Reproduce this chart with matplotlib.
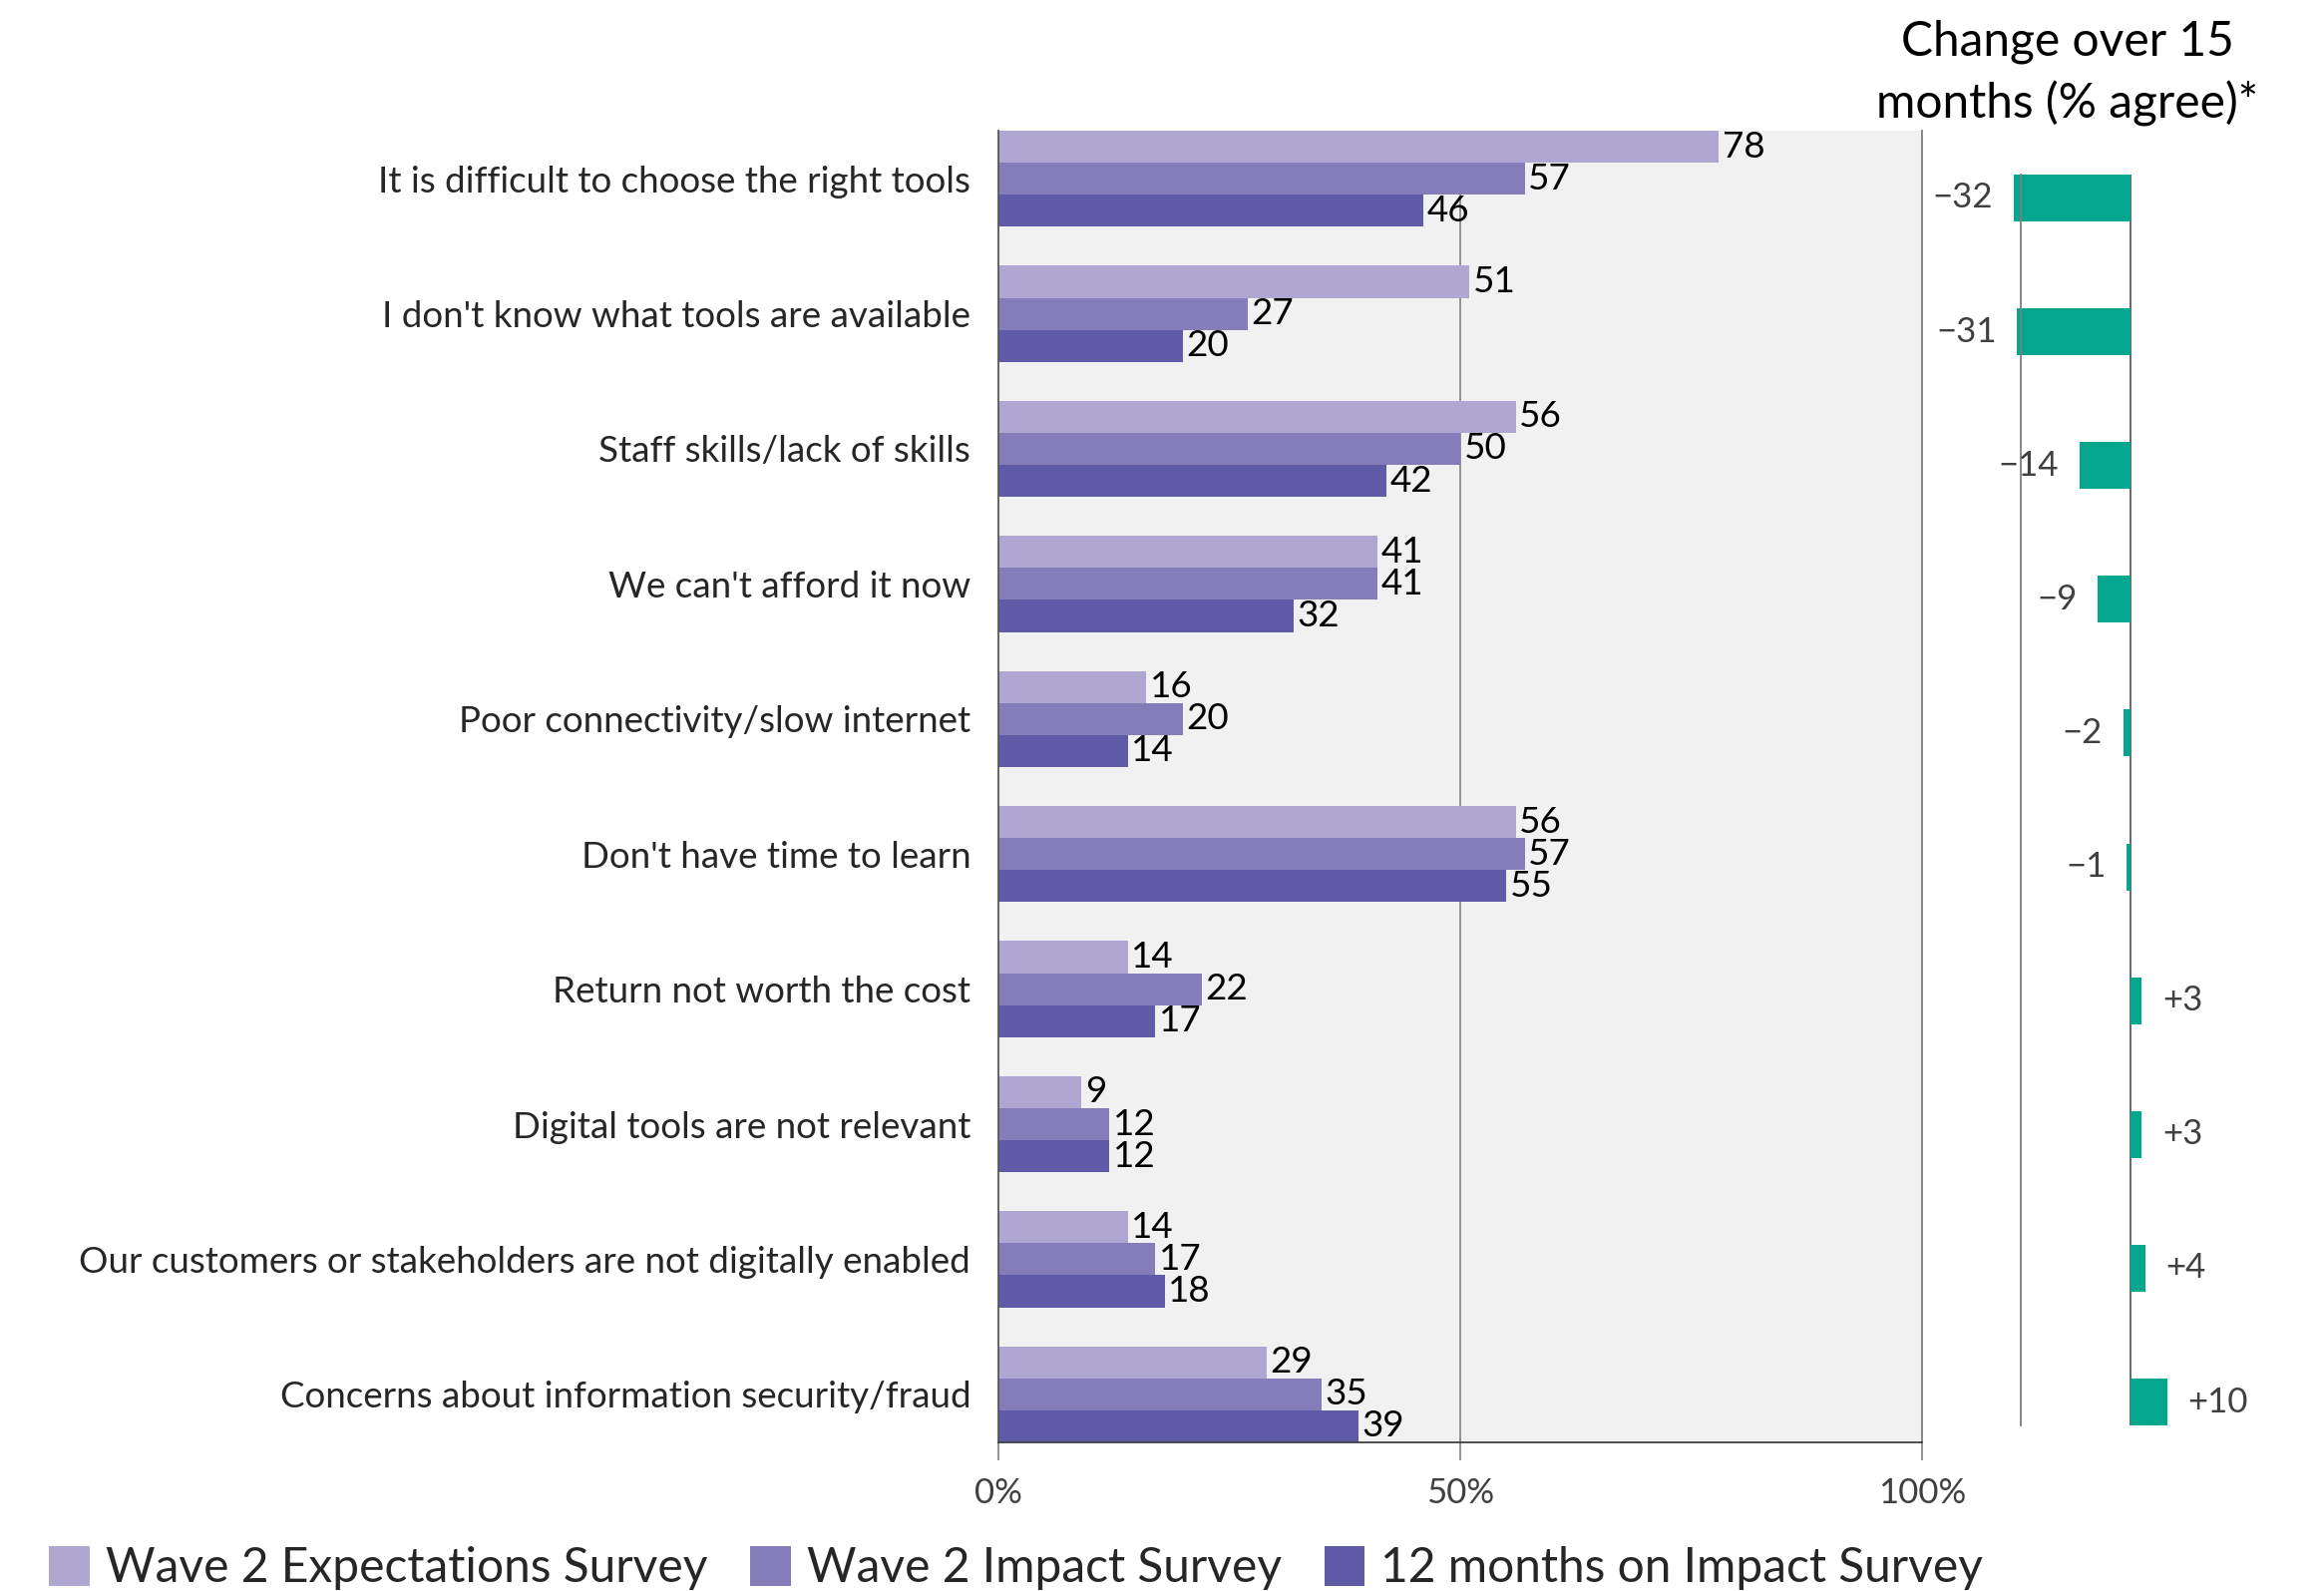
import numpy as np
import matplotlib.pyplot as plt
from matplotlib.patches import Patch

plt.rcParams['font.family'] = ['Lato', 'DejaVu Sans']

categories = ["It is difficult to choose the right tools",
              "I don't know what tools are available",
              "Staff skills/lack of skills",
              "We can't afford it now",
              "Poor connectivity/slow internet",
              "Don't have time to learn",
              "Return not worth the cost",
              "Digital tools are not relevant",
              "Our customers or stakeholders are not digitally enabled",
              "Concerns about information security/fraud"]
wave2_expect = [78, 51, 56, 41, 16, 56, 14, 9, 14, 29]
wave2_impact = [57, 27, 50, 41, 20, 57, 22, 12, 17, 35]
months12 = [46, 20, 42, 32, 14, 55, 17, 12, 18, 39]
change = [-32, -31, -14, -9, -2, -1, 3, 3, 4, 10]
series_names = ["Wave 2 Expectations Survey", "Wave 2 Impact Survey", "12 months on Impact Survey"]
colors = ["#b0a6d2", "#857db9", "#5f5ba7"]
teal = "#04a78e"

W, H = 2330, 1595
fig = plt.figure(figsize=(W / 100, H / 100), dpi=100)

# main grouped bars
ax = fig.add_axes([1001 / W, 1 - 1446 / H, 926 / W, 1315 / H])
ax.set_facecolor("#f1f1f1")
y = np.arange(len(categories))
h = 0.237
for i, (vals, c) in enumerate(zip([wave2_expect, wave2_impact, months12], colors)):
    pos = y + (i - 1) * h
    ax.barh(pos, vals, height=h, color=c, label=series_names[i], zorder=2)
    for p, v in zip(pos, vals):
        ax.annotate(str(v), (v, p), xytext=(2.5, 0), textcoords="offset points",
                    ha="left", va="center", fontsize=26.5, color="black", zorder=4)

ax.set_xlim(0, 100)
ax.set_ylim(9 + 1.5 * h, -1.5 * h)
ax.set_xticks([0, 50, 100])
ax.set_xticklabels(["0%", "50%", "100%"])
ax.tick_params(axis="x", length=13, width=1.2, color="#7f7f7f", pad=12,
               labelsize=25, labelcolor="#404040")
ax.set_yticks(y)
ax.set_yticklabels(categories)
ax.tick_params(axis="y", length=0, pad=20, labelsize=26.5, labelcolor="#262626")
ax.axvline(50, color="#8c8c8c", lw=1.3, zorder=1)
ax.spines["top"].set_visible(False)
ax.spines["left"].set_color("#595959")
ax.spines["right"].set_color("#7f7f7f")
ax.spines["bottom"].set_color("#404040")
for s in ["left", "right", "bottom"]:
    ax.spines[s].set_linewidth(1.3)

# change panel
ax2 = fig.add_axes([2026 / W, 1 - 1429 / H, 220 / W, 1254 / H])
ax2.barh(y, change, height=0.35, color=teal, clip_on=False, zorder=2)
ax2.set_xlim(-30, 30)
ax2.set_ylim(9.175, -0.175)
ax2.axvline(0, color="#595959", lw=1.3, zorder=1)
for s in ["top", "right", "bottom"]:
    ax2.spines[s].set_visible(False)
ax2.spines["left"].set_color("#7f7f7f")
ax2.spines["left"].set_linewidth(1.3)
ax2.set_xticks([])
ax2.set_yticks([])
ax2.patch.set_visible(False)
for p, v in zip(y, change):
    txt = ("+%d" % v) if v > 0 else ("\u2212%d" % abs(v))
    ax2.annotate(txt, (v, p), xytext=(15 if v > 0 else -15, 0), textcoords="offset points",
                 ha="left" if v > 0 else "right", va="center", fontsize=25, color="#404040",
                 annotation_clip=False)

fig.text(2073 / W, 1 - 42 / H, "Change over 15", ha="center", va="center", fontsize=34.5, color="black")
fig.text(2073 / W, 1 - 104 / H, "months (% agree)*", ha="center", va="center", fontsize=34.5, color="black")

handles = [Patch(facecolor=c) for c in colors]
fig.legend(handles, series_names, loc="center left", bbox_to_anchor=(49 / W, 1 - 1572 / H),
           ncol=3, frameon=False, fontsize=34.5, handlelength=0.85, handleheight=0.9,
           handletextpad=0.33, columnspacing=0.9, borderaxespad=0, borderpad=0,
           labelcolor="#262626")

fig.savefig("out.png", dpi=100)
